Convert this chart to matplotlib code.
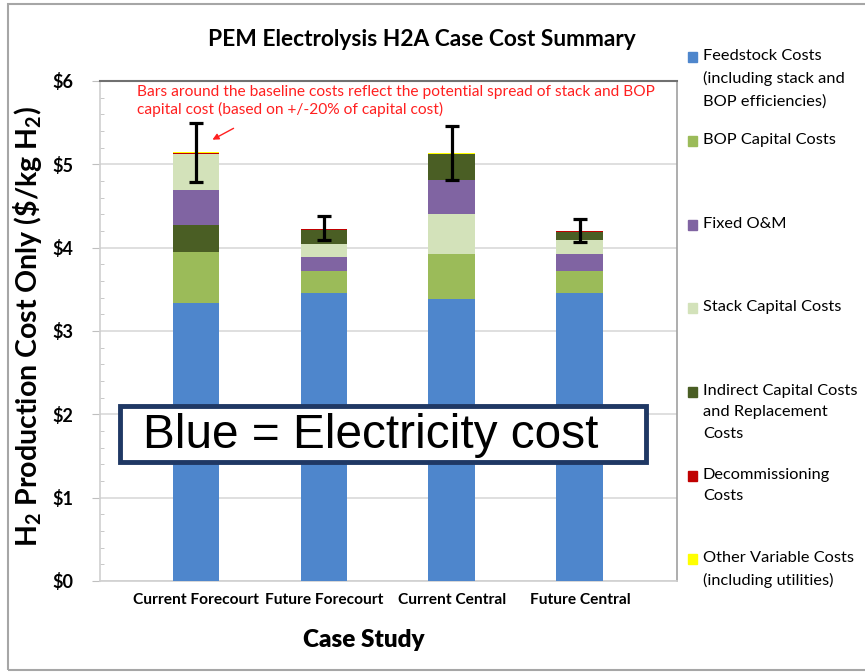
import numpy as np
import matplotlib
matplotlib.use('Agg')
import matplotlib.pyplot as plt
from matplotlib.patches import Rectangle
from matplotlib.ticker import MultipleLocator, FuncFormatter

plt.rcParams['font.family'] = ['Lato', 'DejaVu Sans']
plt.rcParams['mathtext.fontset'] = 'custom'
plt.rcParams['mathtext.rm'] = 'Lato'
plt.rcParams['mathtext.bf'] = 'Lato:bold'

# data ($/kg H2)
cases = ['Current Forecourt', 'Future Forecourt', 'Current Central', 'Future Central']
feedstock = [3.34, 3.46, 3.38, 3.46]
bop_capital = [0.61, 0.26, 0.54, 0.26]
fixed_om = [0.42, 0.17, 0.40, 0.20]
stack_capital = [0.44, 0.16, 0.49, 0.17]
indirect = [0.32, 0.16, 0.31, 0.10]
decommissioning = [0.012, 0.01, 0.005, 0.005]
other_variable = [0.01, 0.01, 0.01, 0.01]
err_low = [4.79, 4.09, 4.81, 4.07]
err_high = [5.50, 4.38, 5.46, 4.35]

series = {
    'feed': (feedstock, '#4E86CC', 'Feedstock Costs\n(including stack and\nBOP efficiencies)'),
    'bop': (bop_capital, '#9BBB59', 'BOP Capital Costs'),
    'fixed': (fixed_om, '#8064A2', 'Fixed O&M'),
    'stack': (stack_capital, '#D3E2BA', 'Stack Capital Costs'),
    'indirect': (indirect, '#4A5E24', 'Indirect Capital Costs\nand Replacement\nCosts'),
    'decom': (decommissioning, '#C00000', 'Decommissioning\nCosts'),
    'other': (other_variable, '#FFFF00', 'Other Variable Costs\n(including utilities)'),
}
legend_order = ['feed', 'bop', 'fixed', 'stack', 'indirect', 'decom', 'other']
# stacking order differs per bar in the original chart
stack_order = [
    ['feed', 'bop', 'indirect', 'fixed', 'stack', 'decom', 'other'],
    ['feed', 'bop', 'fixed', 'stack', 'indirect', 'decom', 'other'],
    ['feed', 'bop', 'stack', 'fixed', 'indirect', 'decom', 'other'],
    ['feed', 'bop', 'fixed', 'stack', 'indirect', 'decom', 'other'],
]

W, H = 865, 672
fig = plt.figure(figsize=(W / 100, H / 100), dpi=100)
ax = fig.add_axes([100 / W, 1 - 581 / H, 577 / W, 500 / H])

def fx(x):
    return x / W

def fy(y):
    return 1 - y / H

x = np.arange(len(cases))
totals = []
for i, order in enumerate(stack_order):
    bottom = 0.0
    for key in order:
        vals, col, _ = series[key]
        ax.bar(x[i], vals[i], 0.367, bottom=bottom, color=col, zorder=3)
        bottom += vals[i]
    totals.append(bottom)
totals = np.array(totals)

yerr = [totals - np.array(err_low), np.array(err_high) - totals]
ax.errorbar(x, totals, yerr=yerr, fmt='none', ecolor='black', elinewidth=2.3,
            capsize=5, capthick=2.3, zorder=5)

ax.set_xlim(-0.75, 3.758)
ax.set_ylim(0, 6)
ax.yaxis.set_major_locator(MultipleLocator(1))
ax.yaxis.set_minor_locator(MultipleLocator(0.2))
ax.yaxis.set_major_formatter(FuncFormatter(lambda v, p: '$%d' % v))
ax.grid(axis='y', which='major', color='#D9D9D9', linewidth=1.2, zorder=0)
ax.tick_params(axis='y', which='major', length=6, color='#BFBFBF', pad=13,
               labelsize=13)
ax.tick_params(axis='y', which='minor', length=3, direction='in', color='#BFBFBF')
for lab in ax.get_yticklabels():
    lab.set_fontweight('bold')
ax.set_xticks(x)
ax.set_xticklabels(cases, fontsize=11.2, fontweight='bold')
ax.tick_params(axis='x', length=0, pad=9)

for side in ['left', 'bottom']:
    ax.spines[side].set_color('#D0D0D0')
    ax.spines[side].set_linewidth(1.2)
ax.spines['top'].set_color('#707070')
ax.spines['top'].set_linewidth(1.5)
ax.spines['right'].set_color('#A0A0A0')
ax.spines['right'].set_linewidth(1.2)

ax.set_ylabel('H$_\\mathbf{2}$ Production Cost Only (\\$/kg H$_\\mathbf{2}$)',
              fontsize=20.5, fontweight='bold')
ax.yaxis.set_label_coords((44 - 100) / 577, 0.51)

fig.text(fx(422), fy(40), 'PEM Electrolysis H2A Case Cost Summary', fontsize=16.4,
         fontweight='bold', ha='center', va='center')
fig.text(fx(364), fy(640), 'Case Study', fontsize=17.5, fontweight='heavy',
         ha='center', va='center')

# red note and arrow
fig.text(fx(137), fy(101),
         'Bars around the baseline costs reflect the potential spread of stack and BOP\n'
         'capital cost (based on +/-20% of capital cost)',
         color='#FF2020', fontsize=11.2, ha='left', va='center', linespacing=1.3)
ax.annotate('', xy=(210, H - 141), xycoords='figure pixels',
            xytext=(236, H - 127), textcoords='figure pixels',
            arrowprops=dict(arrowstyle='-|>', color='#FF2020', lw=1,
                            mutation_scale=9))

# legend
leg_y = [57, 141, 225, 308, 392, 476, 559]
for key, yy in zip(legend_order, leg_y):
    _, col, lab = series[key]
    fig.patches.append(Rectangle((fx(688), fy(yy + 5)), 9 / W, 10 / H, color=col,
                                 transform=fig.transFigure, figure=fig))
    fig.text(fx(703), fy(yy - 8), lab, fontsize=11.8, ha='left', va='top',
             linespacing=1.68)

# Blue = Electricity cost box
fig.patches.append(Rectangle((fx(120), fy(462)), 526 / W, 56 / H, facecolor='white',
                             edgecolor='#1F3864', linewidth=3.5,
                             transform=fig.transFigure, figure=fig, zorder=10))
fig.text(fx(143), fy(436), 'Blue = Electricity cost', family='Liberation Sans',
         fontsize=34.4, ha='left', va='center', zorder=11)

# outer chart frame
fig.patches.append(Rectangle((fx(8), fy(670)), 1.0, (670 - 4) / H, fill=False,
                             edgecolor='#A6A6A6', linewidth=1.5,
                             transform=fig.transFigure, figure=fig))

fig.savefig('out.png', dpi=100)
